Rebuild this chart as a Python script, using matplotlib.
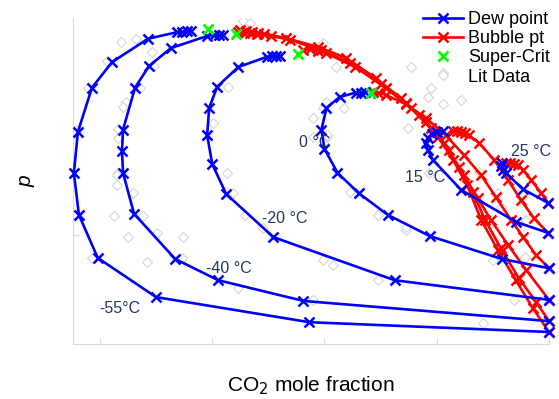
import numpy as np
import matplotlib.pyplot as plt

plt.rcParams["font.family"] = ["Liberation Sans", "DejaVu Sans"]

# dew point curves (CO2 mole fraction, pressure in bar)
dew_m55_x = [1.0, 0.573, 0.300, 0.196, 0.1625, 0.1536, 0.1607, 0.1857, 0.2214, 0.2857, 0.3375, 0.3464, 0.3554, 0.3625]
dew_m55_p = [2.2, 4.0, 8.6, 15.8, 23.7, 31.4, 38.9, 47.0, 51.7, 56.0, 57.2, 57.2, 57.4, 57.4]

dew_m40_x = [1.0, 0.5625, 0.4107, 0.3339, 0.2607, 0.2411, 0.2393, 0.2411, 0.2625, 0.2875, 0.3268, 0.3911, 0.4036, 0.4125, 0.4196]
dew_m40_p = [4.2, 7.9, 11.7, 15.6, 23.9, 31.4, 35.4, 39.3, 47.0, 51.0, 54.3, 56.5, 56.7, 56.7, 56.7]

dew_m20_x = [1.0, 0.725, 0.509, 0.425, 0.400, 0.391, 0.3946, 0.4089, 0.4464, 0.498, 0.507, 0.514, 0.520]
dew_m20_p = [8.1, 11.7, 19.6, 27.5, 33.0, 38.3, 43.3, 47.2, 50.8, 52.7, 52.8, 52.8, 52.8]

dew_0_x = [1.0, 0.916, 0.7875, 0.7125, 0.6607, 0.6232, 0.600, 0.5946, 0.6036, 0.6268, 0.6554, 0.6643, 0.6714]
dew_0_p = [13.9, 15.6, 19.8, 23.7, 27.7, 31.4, 35.8, 39.3, 43.3, 45.3, 46.1, 46.1, 46.2]

dew_15_x = [0.998, 0.941, 0.843, 0.793, 0.784, 0.780, 0.784, 0.791, 0.800, 0.8107]
dew_15_p = [20.4, 22.4, 28.3, 33.8, 35.6, 36.9, 37.8, 38.5, 38.9, 39.1]

dew_25_x = [0.998, 0.9536, 0.923, 0.918, 0.914, 0.916]
dew_25_p = [25.9, 28.4, 31.4, 31.9, 32.7, 33.2]

# bubble point curves
bub_m55_x = [0.450, 0.461, 0.471, 0.482, 0.493, 0.532, 0.588, 0.638, 0.691, 0.736, 0.768, 0.802, 0.829, 0.854, 0.879, 0.909, 0.941, 0.971, 1.0]
bub_m55_p = [57.6, 57.4, 57.2, 57.1, 56.9, 56.1, 54.5, 52.5, 48.8, 45.1, 42.0, 38.0, 33.8, 29.2, 22.8, 17.2, 11.7, 6.6, 2.2]

bub_m40_x = [0.446, 0.457, 0.468, 0.479, 0.504, 0.539, 0.593, 0.646, 0.700, 0.745, 0.780, 0.813, 0.839, 0.864, 0.886, 0.914, 0.946, 0.977, 1.0]
bub_m40_p = [57.2, 57.1, 57.1, 56.9, 56.5, 55.8, 53.9, 51.6, 47.7, 44.2, 40.7, 36.9, 32.5, 27.9, 22.8, 17.6, 12.1, 7.7, 4.2]

bub_m20_x = [0.5625, 0.575, 0.589, 0.602, 0.655, 0.709, 0.754, 0.789, 0.821, 0.848, 0.873, 0.896, 0.927, 0.959, 1.0]
bub_m20_p = [53.9, 54.1, 53.8, 53.4, 50.8, 47.0, 43.3, 39.6, 35.6, 31.0, 26.8, 22.8, 18.2, 13.6, 8.1]

bub_0_x = [0.686, 0.696, 0.709, 0.745, 0.780, 0.816, 0.848, 0.879, 0.905, 0.932, 0.954, 0.977, 1.0]
bub_0_p = [46.2, 46.1, 45.7, 44.0, 41.5, 38.3, 34.7, 31.0, 27.0, 22.8, 19.6, 16.3, 13.9]

bub_15_x = [0.829, 0.836, 0.843, 0.850, 0.857, 0.875, 0.902, 0.927, 0.950, 0.973, 0.998]
bub_15_p = [39.1, 39.1, 38.9, 38.7, 38.3, 36.9, 33.8, 30.1, 26.4, 23.1, 20.4]

bub_25_x = [0.923, 0.930, 0.9375, 0.945, 0.954, 0.968, 0.986, 0.998]
bub_25_p = [33.2, 33.2, 33.0, 32.8, 31.9, 30.1, 27.7, 25.9]

# super critical points
crit_x = [0.393, 0.443, 0.5536, 0.682]
crit_p = [57.8, 56.9, 53.2, 46.1]

# literature data
lit_x = [0.2375, 0.264, 0.293, 0.2125, 0.296, 0.1786, 0.271, 0.246, 0.241, 0.232, 0.232, 0.232, 0.230, 0.259,
         0.455, 0.468, 0.429, 0.402, 0.427, 0.4375, 0.598, 0.754, 0.811, 0.789, 0.784, 0.811, 0.598, 0.634,
         0.579, 0.748, 0.580, 0.605, 0.786, 0.646, 0.843, 0.620, 0.602, 0.604, 0.225, 0.250, 0.277, 0.302,
         0.348, 0.284, 0.186, 0.346, 0.446, 0.459, 0.491, 0.155, 0.696, 0.745, 0.598, 0.616, 0.696, 0.580,
         0.882, 0.9375, 0.900, 0.959, 0.230, 0.875, 0.909, 0.932, 0.745, 0.914, 0.957]
lit_p = [55.4, 56.0, 53.6, 51.9, 51.0, 47.0, 47.0, 44.4, 43.5, 39.4, 37.8, 31.4, 29.2, 27.7,
         59.3, 58.9, 47.2, 40.6, 31.4, 27.7, 55.2, 50.8, 49.7, 47.0, 45.3, 44.0, 43.3, 43.3,
         41.5, 39.6, 38.0, 38.0, 31.4, 27.9, 44.8, 50.8, 44.4, 38.3, 23.5, 19.6, 23.5, 20.4,
         19.6, 15.0, 15.8, 15.8, 10.3, 23.7, 21.3, 23.7, 23.7, 20.9, 15.4, 14.5, 11.7, 8.1,
         3.9, 8.1, 15.4, 22.8, 31.0, 31.6, 27.7, 29.7, 21.5, 25.1, 16.0]

temp_labels = ["-55°C", "-40 °C", "-20 °C", "0 °C", "15 °C", "25 °C"]
label_x = [0.236, 0.429, 0.529, 0.582, 0.780, 0.968]
label_p = [6.6, 13.9, 23.1, 36.9, 30.5, 35.4]

dew_curves = [(dew_m55_x, dew_m55_p), (dew_m40_x, dew_m40_p), (dew_m20_x, dew_m20_p),
              (dew_0_x, dew_0_p), (dew_15_x, dew_15_p), (dew_25_x, dew_25_p)]
bub_curves = [(bub_m55_x, bub_m55_p), (bub_m40_x, bub_m40_p), (bub_m20_x, bub_m20_p),
              (bub_0_x, bub_0_p), (bub_15_x, bub_15_p), (bub_25_x, bub_25_p)]

fig = plt.figure(figsize=(5.59, 3.99), dpi=100)
ax = fig.add_axes([73 / 559, 55 / 399, 476 / 559, 326 / 399])

ax.plot(lit_x, lit_p, linestyle="none", marker="D", markersize=4.8,
        markerfacecolor="white", markeredgecolor="#d6d6d6", markeredgewidth=0.8,
        label="Lit Data", zorder=1)

line_kw = dict(linewidth=1.9, marker="x", markersize=7, markeredgewidth=1.8, clip_on=False)
for i, (x, p) in enumerate(bub_curves):
    ax.plot(x, p, color="#ff0000", label="Bubble pt" if i == 0 else None, zorder=2, **line_kw)
for i, (x, p) in enumerate(dew_curves):
    ax.plot(x, p, color="#0000ff", label="Dew point" if i == 0 else None, zorder=3, **line_kw)

ax.plot(crit_x, crit_p, linestyle="none", marker="x", markersize=7, markeredgewidth=2,
        color="#00ff00", label="Super-Crit", zorder=4)

for t, x, p in zip(temp_labels, label_x, label_p):
    ax.text(x, p, t, color="#1f3864", fontsize=11.5, ha="center", va="center")

ax.set_xlim(0.152, 1.0)
ax.set_ylim(0, 59.8)
ax.set_xticks([0.2, 0.4, 0.6, 0.8, 1.0])
ax.set_yticks([20, 40])
ax.tick_params(direction="in", length=4, color="#d9d9d9", labelbottom=False, labelleft=False)
for side in ["top", "right"]:
    ax.spines[side].set_visible(False)
for side in ["left", "bottom"]:
    ax.spines[side].set_color("#d9d9d9")

ax.set_xlabel("CO$_2$ mole fraction", fontsize=15, labelpad=22)
ax.set_ylabel("p", fontsize=15, style="italic", labelpad=27)

handles, labels = ax.get_legend_handles_labels()
order = [labels.index(n) for n in ["Dew point", "Bubble pt", "Super-Crit", "Lit Data"]]
fig.legend([handles[i] for i in order], [labels[i] for i in order],
           loc="upper left", bbox_to_anchor=(423 / 559, 1 - 11 / 399),
           frameon=False, fontsize=13, handlelength=2.2, handletextpad=0.3,
           labelspacing=0.12, borderpad=0, borderaxespad=0)

fig.savefig("out.png", dpi=100)
